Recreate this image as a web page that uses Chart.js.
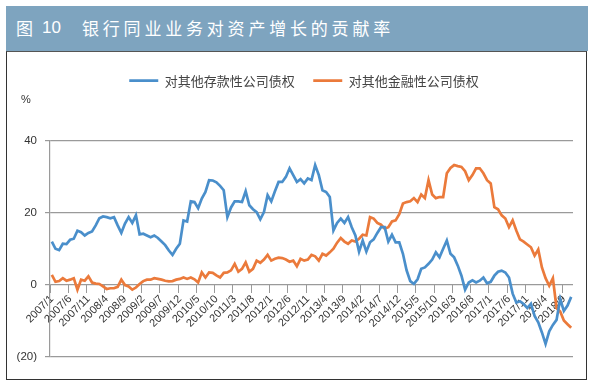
<!DOCTYPE html>
<html>
<head>
<meta charset="utf-8">
<script src="https://cdn.jsdelivr.net/npm/chart.js@4/dist/chart.umd.min.js"></script>
<style>
html,body{margin:0;padding:0;background:#fff;width:593px;height:390px;overflow:hidden;position:relative}
#bar{position:absolute;left:6px;top:6px;width:582px;height:45px;background:#7ea4bf;color:#fff;font-family:"Noto Sans CJK SC";font-size:17px;}
#bar span{position:absolute;top:12px;line-height:20px;white-space:nowrap}
#box{position:absolute;left:6px;top:50.5px;width:578.5px;height:327px;border:1.5px solid #333;border-top-color:#555}
#c{position:absolute;left:8px;top:52px}
</style>
</head>
<body>
<div id="bar"><span style="left:10px">图</span><span style="left:36px;font-family:'Liberation Sans';font-size:17px">10</span><span style="left:76px;letter-spacing:3.8px">银行同业业务对资产增长的贡献率</span></div>
<div id="box"></div>
<canvas id="c" width="590" height="327"></canvas>
<script>
const categories = [
'2007/1','2007/2','2007/3','2007/4','2007/5','2007/6','2007/7','2007/8','2007/9','2007/10','2007/11','2007/12',
'2008/1','2008/2','2008/3','2008/4','2008/5','2008/6','2008/7','2008/8','2008/9','2008/10','2008/11','2008/12',
'2009/1','2009/2','2009/3','2009/4','2009/5','2009/6','2009/7','2009/8','2009/9','2009/10','2009/11','2009/12',
'2010/1','2010/2','2010/3','2010/4','2010/5','2010/6','2010/7','2010/8','2010/9','2010/10','2010/11','2010/12',
'2011/1','2011/2','2011/3','2011/4','2011/5','2011/6','2011/7','2011/8','2011/9','2011/10','2011/11','2011/12',
'2012/1','2012/2','2012/3','2012/4','2012/5','2012/6','2012/7','2012/8','2012/9','2012/10','2012/11','2012/12',
'2013/1','2013/2','2013/3','2013/4','2013/5','2013/6','2013/7','2013/8','2013/9','2013/10','2013/11','2013/12',
'2014/1','2014/2','2014/3','2014/4','2014/5','2014/6','2014/7','2014/8','2014/9','2014/10','2014/11','2014/12',
'2015/1','2015/2','2015/3','2015/4','2015/5','2015/6','2015/7','2015/8','2015/9','2015/10','2015/11','2015/12',
'2016/1','2016/2','2016/3','2016/4','2016/5','2016/6','2016/7','2016/8','2016/9','2016/10','2016/11','2016/12',
'2017/1','2017/2','2017/3','2017/4','2017/5','2017/6','2017/7','2017/8','2017/9','2017/10','2017/11','2017/12',
'2018/1','2018/2','2018/3','2018/4','2018/5','2018/6','2018/7','2018/8','2018/9','2018/10','2018/11'
];
const seriesNames = ['对其他存款性公司债权', '对其他金融性公司债权'];
const depositoryClaims = [
12.0,10.0,9.6,11.4,11.3,12.5,12.8,15.0,14.6,13.7,14.4,14.8,16.5,18.5,19.0,18.8,18.5,18.8,16.5,14.4,
17.0,18.8,17.2,19.3,14.0,14.2,13.7,13.2,13.7,13.0,12.0,11.0,9.5,8.3,10.0,11.4,17.9,17.6,23.2,23.0,
21.3,24.0,25.8,29.1,29.0,28.5,27.5,26.3,18.8,21.5,23.2,23.2,23.0,26.0,22.1,21.0,20.2,18.2,20.2,24.9,
23.2,26.0,28.6,28.6,30.0,32.4,30.5,28.6,29.4,28.2,29.6,29.1,33.3,30.5,26.3,25.8,24.4,15.1,17.2,18.4,
17.2,18.8,16.0,13.7,9.2,12.3,9.2,11.8,12.6,14.4,16.0,16.0,12.0,13.9,11.8,11.8,8.6,4.0,1.0,0.2,
1.5,4.4,4.8,5.8,7.0,9.0,7.6,10.0,12.3,8.6,7.6,5.3,2.5,-1.4,0.6,1.2,0.6,1.1,2.0,0.4,
0.8,2.5,3.6,3.9,3.4,2.0,-2.5,-5.0,-4.6,-5.4,-6.5,-5.3,-8.7,-10.5,-13.3,-16.5,-13.0,-11.2,-9.8,-4.0,
-7.3,-5.8,-3.4
];
const financialClaims = [
2.7,0.8,1.0,1.8,1.1,1.4,1.8,-1.4,1.4,1.1,2.3,0.6,0.3,0.2,-0.5,-1.2,-1.0,-1.0,-0.6,1.4,
-0.1,-0.5,-1.4,-0.8,0.2,1.0,1.4,1.4,1.8,1.6,1.4,1.1,0.9,1.0,1.4,1.6,2.0,1.6,2.0,1.5,
0.6,3.4,2.0,3.4,3.3,2.6,2.0,3.3,3.4,4.0,5.8,3.6,4.4,6.2,3.6,4.4,6.7,6.1,7.0,8.3,
6.7,7.2,7.5,7.4,7.0,6.4,6.7,5.1,7.2,6.7,7.0,8.3,7.9,6.7,8.6,8.1,9.0,10.0,11.7,13.0,
12.0,11.4,12.3,12.0,12.8,13.9,13.7,18.8,18.4,17.2,16.7,15.6,16.0,17.6,17.9,19.6,22.6,23.0,23.2,24.1,
23.0,25.1,24.1,29.1,25.1,24.1,24.4,24.4,31.0,32.5,33.3,33.0,32.8,31.6,29.1,30.5,32.4,32.4,31.0,29.1,
28.2,21.6,21.0,19.3,18.4,16.0,17.9,15.1,12.6,12.0,11.2,10.4,8.1,9.8,4.8,1.8,-0.3,1.8,-6.5,-7.5,
-10.0,-11.0,-12.0
];
const yMin = -20, yMax = 40, yStep = 20;
const unitLabel = '%';

const BLUE = '#4a8fcb';
const ORANGE = '#eb7a3b';
const CJK = '"Noto Sans CJK SC", sans-serif';
const LATIN = '"Liberation Sans", Arial, sans-serif';

const unitPlugin = {
  id: 'unitLabel',
  afterDraw(chart) {
    const c = chart.ctx;
    c.save();
    c.font = '11px ' + LATIN;
    c.fillStyle = '#333';
    c.textAlign = 'center';
    c.textBaseline = 'middle';
    c.fillText(unitLabel, 18, 47.5);
    c.restore();
  }
};

new Chart(document.getElementById('c'), {
  type: 'line',
  data: {
    labels: categories,
    datasets: [
      {label: seriesNames[0], data: depositoryClaims, borderColor: BLUE, backgroundColor: BLUE,
       borderWidth: 2.7, pointRadius: 0, pointStyle: 'line', tension: 0},
      {label: seriesNames[1], data: financialClaims, borderColor: ORANGE, backgroundColor: ORANGE,
       borderWidth: 2.7, pointRadius: 0, pointStyle: 'line', tension: 0}
    ]
  },
  options: {
    responsive: false,
    animation: false,
    devicePixelRatio: 1,
    layout: {padding: {left: 4, right: 2, top: 3.7, bottom: 22.5}},
    plugins: {
      legend: {
        position: 'top', align: 'center', weight: 1000,
        labels: {usePointStyle: true, pointStyle: 'line', pointStyleWidth: 29, boxHeight: 13,
                 padding: 18.5, color: '#444', font: {family: CJK, size: 13}}
      },
      subtitle: {display: true, text: ' ', weight: 500, position: 'top',
                 padding: {top: 0, bottom: 33.8}, font: {size: 10, lineHeight: 1}},
      tooltip: {enabled: false}
    },
    scales: {
      x: {
        type: 'category',
        position: {y: 0},
        offset: true,
        border: {display: false},
        grid: {offset: true, drawOnChartArea: false, drawTicks: true, tickLength: 8, lineWidth: 1,
               color: (ctx) => (ctx.index % 5 === 0 ? '#9a9a9a' : 'rgba(0,0,0,0)')},
        ticks: {autoSkip: false, minRotation: 45, maxRotation: 45, padding: 0, color: '#333',
                font: {family: LATIN, size: 11},
                callback: (v, i) => (i % 5 === 0 ? categories[i] : '')}
      },
      y: {
        min: yMin, max: yMax,
        afterFit: (s) => { s.width = 38; },
        border: {display: true, color: '#9a9a9a', width: 1.2},
        grid: {color: '#9a9a9a', lineWidth: 1.2, drawTicks: true, tickLength: 5},
        ticks: {stepSize: yStep, padding: 8, color: '#333', font: {family: LATIN, size: 11.5},
                callback: (v) => (v < 0 ? '(' + Math.abs(v) + ')' : String(v))}
      },
      yRightSpacer: {
        type: 'linear',
        position: 'right',
        display: true,
        afterFit: (s) => { s.width = 23; },
        border: {display: false},
        grid: {display: false},
        ticks: {display: false}
      }
    }
  },
  plugins: [unitPlugin]
});
</script>
</body>
</html>
